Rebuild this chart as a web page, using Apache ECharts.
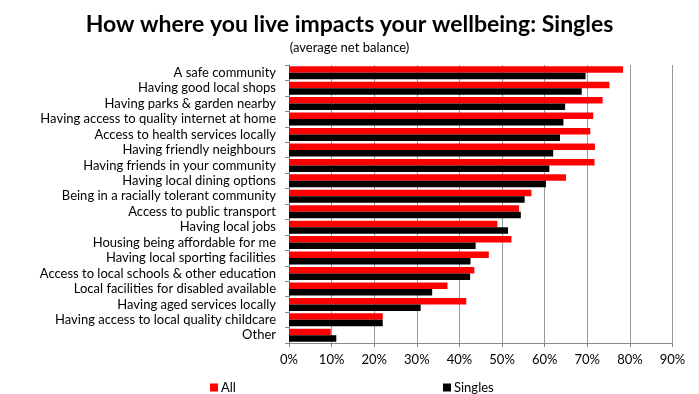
<!DOCTYPE html>
<html>
<head>
<meta charset="utf-8">
<script src="https://cdn.jsdelivr.net/npm/echarts@6/dist/echarts.min.js"></script>
<style>html,body{margin:0;padding:0;background:#fff}#c{width:699px;height:394px}</style>
</head>
<body>
<div id="c"></div>
<script>
const categories = [
  "A safe community",
  "Having good local shops",
  "Having parks & garden nearby",
  "Having access to quality internet at home",
  "Access to health services locally",
  "Having friendly neighbours",
  "Having friends in your community",
  "Having local dining options",
  "Being in a racially tolerant community",
  "Access to public transport",
  "Having local jobs",
  "Housing being affordable for me",
  "Having local sporting facilities",
  "Access to local schools & other education",
  "Local facilities for disabled available",
  "Having aged services locally",
  "Having access to local quality childcare",
  "Other"
];
const allValues = [78.4, 75.2, 73.6, 71.4, 70.7, 71.8, 71.7, 65.0, 56.9, 54.0, 48.9, 52.2, 46.9, 43.5, 37.2, 41.6, 22.0, 9.8];
const singlesValues = [69.6, 68.7, 64.8, 64.4, 63.6, 62.0, 61.1, 60.3, 55.3, 54.4, 51.4, 43.8, 42.6, 42.5, 33.6, 30.9, 22.0, 11.1];
const xTicks = [0, 10, 20, 30, 40, 50, 60, 70, 80, 90];

const FONT = "Lato";
const chart = echarts.init(document.getElementById('c'), null, {renderer: 'canvas'});
chart.setOption({
  animation: false,
  backgroundColor: '#fff',
  textStyle: {fontFamily: FONT},
  title: [
    {text: 'How where you live impacts your wellbeing: Singles', left: 'center', top: 8,
     textStyle: {fontFamily: FONT, fontSize: 23, fontWeight: 'bold', color: '#000'}},
    {text: '(average net balance)', left: 'center', top: 36,
     textStyle: {fontFamily: FONT, fontSize: 13, fontWeight: 'normal', color: '#000'}}
  ],
  legend: [
    {data: ['All'], left: 205, top: 376, itemWidth: 8, itemHeight: 8, itemGap: 4,
     icon: 'rect', textStyle: {fontFamily: FONT, fontSize: 13, color: '#000', padding: [0,0,0,-2]}},
    {data: ['Singles'], left: 438, top: 376, itemWidth: 8, itemHeight: 8, itemGap: 4,
     icon: 'rect', textStyle: {fontFamily: FONT, fontSize: 13, color: '#000', padding: [0,0,0,-2]}}
  ],
  grid: {left: 289, right: 26.5, top: 65, bottom: 51, containLabel: false},
  xAxis: {
    type: 'value', min: 0, max: 90, interval: 10,
    axisLine: {show: true, lineStyle: {color: '#888'}},
    axisTick: {show: true, length: 4, lineStyle: {color: '#888'}},
    splitLine: {show: true, lineStyle: {color: '#999', width: 1}},
    axisLabel: {formatter: v => xTicks.includes(v) ? v + '%' : '', fontFamily: FONT, fontSize: 13, color: '#000', margin: 10}
  },
  yAxis: {
    type: 'category', data: categories, inverse: true,
    axisLine: {show: true, lineStyle: {color: '#888'}},
    axisTick: {show: true, length: 4, lineStyle: {color: '#888'}},
    axisLabel: {interval: 0, fontFamily: FONT, fontSize: 13, color: '#000', margin: 13}
  },
  series: [
    {name: 'All', type: 'bar', data: allValues, itemStyle: {color: '#ff0000'},
     barGap: '0%', barCategoryGap: '16%'},
    {name: 'Singles', type: 'bar', data: singlesValues, itemStyle: {color: '#000000'},
     barGap: '0%', barCategoryGap: '16%'}
  ]
});
</script>
</body>
</html>
